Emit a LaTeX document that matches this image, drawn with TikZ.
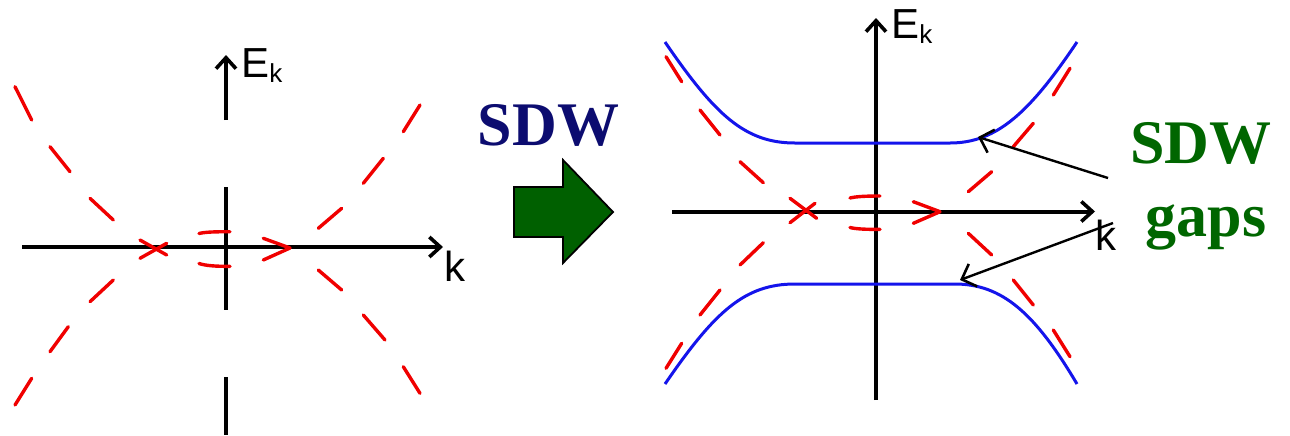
\documentclass[tikz,border=0pt]{standalone}
\usepackage{fontspec}
\setmainfont{Liberation Serif}
\newfontfamily\axfont{Liberation Sans}
\usetikzlibrary{arrows.meta}
\definecolor{sdwblue}{RGB}{12,12,112}
\definecolor{sdwgreen}{RGB}{0,102,0}
\definecolor{arrgreen}{RGB}{0,96,0}
\definecolor{bandblue}{RGB}{20,20,235}
\definecolor{bandred}{RGB}{240,0,0}
\tikzset{
  axis/.style={line width=2pt, black},
  axarrow/.style={axis, -{Straight Barb[length=5.5pt,width=10pt,line width=1.8pt]}},
  reddash/.style={line width=1.7pt, bandred, line cap=round},
  blueband/.style={line width=1.5pt, bandblue},
  pointer/.style={line width=1.2pt, black, -{Straight Barb[length=6pt,width=12pt,line width=1.3pt]}},
  axlabel/.style={font=\axfont\fontsize{21}{22}\selectfont, inner sep=0pt, anchor=base west},
  bigtxt/.style={font=\bfseries\fontsize{31}{34}\selectfont, inner sep=0pt, anchor=base}
}
\newcommand{\Eklabel}{E\raisebox{-2.5pt}{\fontsize{13}{13}\selectfont k}}
\begin{document}
\begin{tikzpicture}[x=0.5pt,y=-0.5pt]
\useasboundingbox (0,0) rectangle (1290,435);
% ---------------- left plot ----------------
\coordinate (L0) at (226,247);
\draw[axarrow] (226,120) -- (226,55);
\draw[axis] (226,187) -- (226,310);
\draw[axis] (226,377) -- (226,435);
\draw[axarrow] (22,247) -- (443,247);
\node[axlabel] (LE) at (241,77) {\Eklabel};
\node[axlabel] (Lk) at (444,281) {k};
% red dashes, left
\draw[reddash]
  (15,86.7) -- (31.7,120)
  (50,146.7) -- (70,171.7)
  (90,198.3) -- (113.3,220)
  (140,240) -- (166.7,255)
  (199,263.5) .. controls (205,265.5) and (215,266.5) .. (230,266.3)
  (263.3,260) -- (290,248)
  (318.3,228.3) -- (341.7,208.3)
  (363.3,183.3) -- (383.3,158.3)
  (403.3,131.7) -- (420,105)
  (15,405) -- (31.7,378.3)
  (50,351.7) -- (68.3,326.7)
  (90,301.7) -- (113.3,280)
  (140,258.3) -- (166.7,243.3)
  (199,233.5) .. controls (205,232) and (215,231.7) .. (230,231.7)
  (263.3,238.3) -- (290,248)
  (318.3,270) -- (341.7,290)
  (363.3,315) -- (385,340)
  (403.3,366.7) -- (420,393.3);
% ---------------- middle ----------------
\node[bigtxt, text=sdwblue] (sdw) at (548.5,145) {SDW};
\draw[line width=0.9pt, black, fill=arrgreen]
  (514,187) -- (563,187) -- (563,160) -- (613,212) -- (563,263) -- (563,237) -- (514,237) -- cycle;
% ---------------- right plot ----------------
\draw[axarrow] (876,400) -- (876,18);
\draw[axarrow] (672,211.5) -- (1095,211.5);
\node[axlabel] (RE) at (891,38) {\Eklabel};
\node[axlabel] (Rk) at (1095,250) {k};
% red dashes, right
\draw[reddash]
  (666,56.7) -- (681.7,81.7)
  (700,110) -- (720,135)
  (740,161.7) -- (763.3,182.7)
  (790,198.3) -- (816.7,218.3)
  (850,227.5) .. controls (856,229) and (866,229.5) .. (880,229.3)
  (913.3,223.3) -- (940,211.7)
  (968.3,191.7) -- (991.7,171.7)
  (1013.3,146.7) -- (1033.3,123.3)
  (1053.3,95) -- (1070,68.3)
  (666,368.3) -- (681.7,343.3)
  (700,315) -- (720,290)
  (740,265) -- (763.3,242.7)
  (790,222.7) -- (815,203.3)
  (850,198) .. controls (856,196.5) and (866,196) .. (880,196)
  (913.3,201.7) -- (940,211.7)
  (968.3,233.3) -- (991.7,255)
  (1013.3,280) -- (1033.3,305)
  (1053.3,330) -- (1070,356.7);
% blue SDW bands
\draw[blueband] (665,42) .. controls (715,115) and (745,143) .. (795,143)
  -- (950,143) .. controls (997,143) and (1030,112) .. (1077,42);
\draw[blueband] (665,384) .. controls (715,311) and (745,284) .. (795,284)
  -- (955,284) .. controls (1002,284) and (1035,313) .. (1077,384);
% labels and pointers
\node[bigtxt, text=sdwgreen] (gap1) at (1201,163) {SDW};
\node[bigtxt, text=sdwgreen] (gap2) at (1206,236) {gaps};
\coordinate (s1) at (1108,178);
\coordinate (s2) at (1113,223);
\coordinate (t1) at (978,137);
\coordinate (t2) at (960,280);
\draw[pointer] (s1) -- (t1);
\draw[pointer] (s2) -- (t2);
\end{tikzpicture}
\end{document}
